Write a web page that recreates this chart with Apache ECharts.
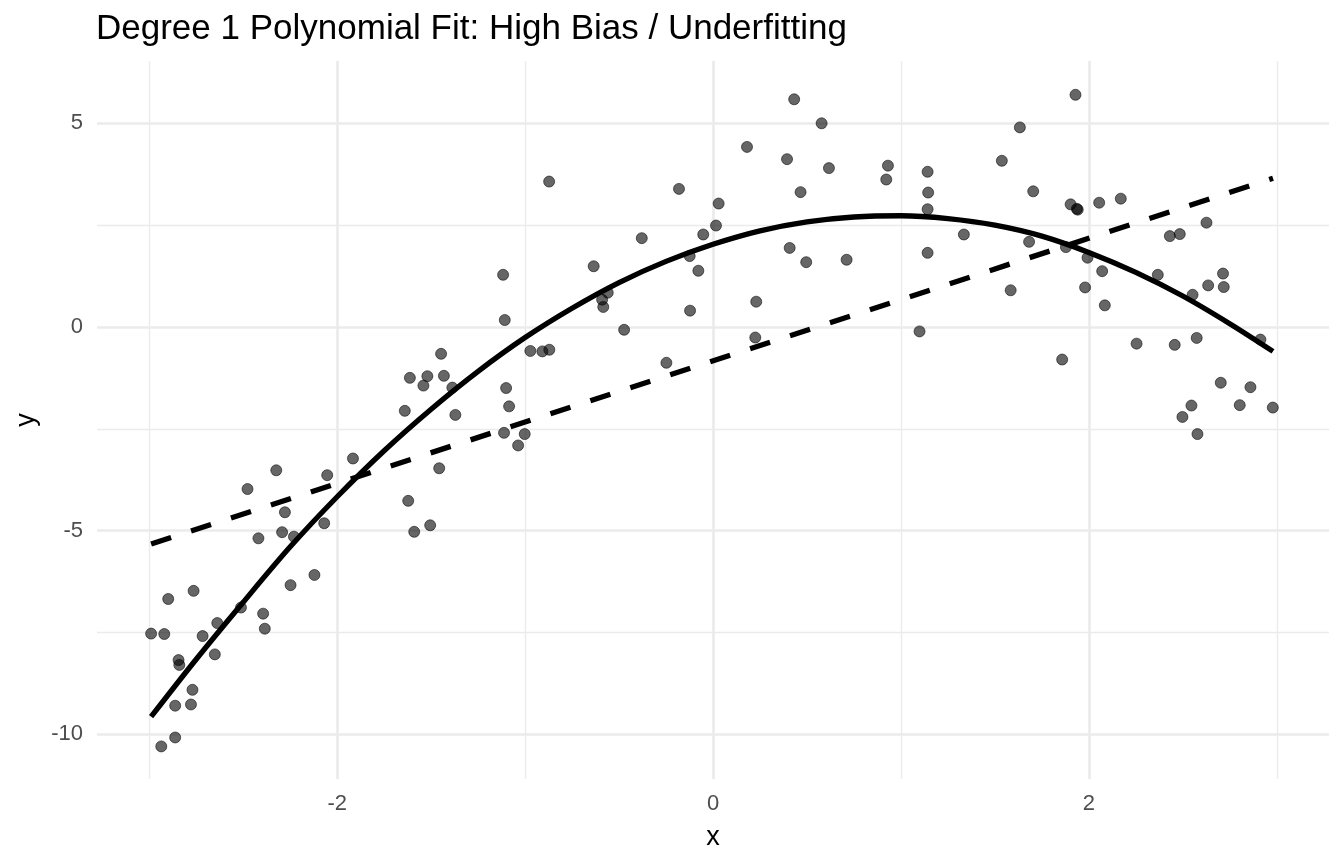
<!DOCTYPE html>
<html>
<head>
<meta charset="utf-8">
<script src="https://cdn.jsdelivr.net/npm/echarts@6/dist/echarts.min.js"></script>
<style>
html,body{margin:0;padding:0;background:#fff;}
#chart{width:1344px;height:864px;}
</style>
</head>
<body>
<div id="chart"></div>
<script>
// Observed data points (x, y)
const pointX = [
 -1.916,-2.324,-2.053,-2.477,-2.278,-2.069,-2.419,-2.293,-2.230,-2.121,
 -2.248,-2.899,-2.764,-2.512,-2.394,-2.385,-2.638,-2.990,-2.920,-2.716,
 -2.651,-2.844,-2.840,-2.770,-2.862,-2.778,-2.862,-2.936,
 -1.117,-1.108,-0.972,-0.908,-0.871,-1.447,-1.613,-1.520,-1.541,-1.432,
 -1.387,-1.640,-1.371,-1.101,-1.085,-1.112,-1.002,-1.037,-1.457,-1.622,
 -1.590,-1.505,
 0.181,-0.872,-0.181,0.030,0.016,-0.379,-0.052,-0.635,-0.124,-0.078,
 -0.560,-0.590,-0.584,-0.122,0.230,-0.473,0.225,-0.248,
 0.432,0.578,0.394,0.617,0.931,0.922,1.142,1.145,1.142,1.537,
 1.633,0.466,1.335,0.408,0.496,0.711,1.142,1.099,1.584,
 1.929,1.704,1.903,1.936,1.941,2.055,2.170,2.626,2.431,2.484,
 1.682,1.878,1.993,2.071,2.367,2.714,2.635,2.718,2.552,1.980,
 2.085,2.254,2.457,2.574,2.913,1.858,2.702,2.860,2.546,2.803,
 2.979,2.498,2.578
];
const pointY = [
 -3.23,-3.52,-3.64,-3.98,-4.55,-4.82,-5.19,-5.04,-5.15,-6.09,
 -6.34,-6.68,-6.48,-6.89,-7.04,-7.41,-7.27,-7.53,-7.54,-7.59,
 -8.04,-8.18,-8.30,-8.91,-9.30,-9.27,-10.08,-10.30,
 1.28,0.17,-0.59,-0.60,-0.56,-0.66,-1.25,-1.21,-1.44,-1.20,
 -1.49,-2.06,-2.16,-1.50,-1.95,-2.60,-2.63,-2.91,-3.47,-4.27,
 -5.03,-4.87,
 4.42,3.57,3.39,3.03,2.49,2.18,2.27,1.49,1.74,1.38,
 0.84,0.67,0.49,0.40,0.62,-0.07,-0.26,-0.88,
 5.59,5.00,4.12,3.90,3.96,3.62,3.81,3.30,2.89,4.08,
 4.90,3.31,2.27,1.94,1.59,1.65,1.82,-0.11,0.90,
 5.70,3.33,3.01,2.90,2.88,3.05,3.15,2.56,2.23,2.28,
 2.09,1.96,1.70,1.37,1.28,1.31,1.02,0.98,0.79,0.97,
 0.53,-0.41,-0.44,-0.27,-0.31,-0.80,-1.37,-1.48,-1.93,-1.92,
 -1.98,-2.21,-2.63
];

// Degree-1 fit (dashed)
const linFitX = [-2.99, 2.98];
const linFitY = [-5.33, 3.65];

// Quadratic trend curve (solid)
const quadFitX = [-2.99,-2.75,-2.5,-2.25,-2,-1.75,-1.5,-1.25,-1,-0.75,-0.5,-0.25,
                  0,0.25,0.5,0.75,1,1.25,1.5,1.75,2,2.25,2.5,2.75,2.98];
const quadFitY = [-9.57,-8.16,-6.76,-5.40,-4.17,-3.04,-2.02,-1.09,-0.26,0.46,1.09,1.61,
                  2.03,2.36,2.58,2.70,2.73,2.66,2.50,2.23,1.83,1.34,0.76,0.08,-0.60];

const xMajorTicks = [-2, 0, 2];
const xMinorTicks = [-3, -1, 1, 3];
const yMajorTicks = [-10, -5, 0, 5];
const yMinorTicks = [-7.5, -2.5, 2.5];

const titleText = 'Degree 1 Polynomial Fit: High Bias / Underfitting';

const FONT = 'Liberation Sans, Arial, Helvetica, sans-serif';
const zip = (a, b) => a.map((v, i) => [v, b[i]]);

const chart = echarts.init(document.getElementById('chart'), null, {renderer: 'canvas'});
const gridColor = '#EBEBEB';
const xMin = -3.278, xMax = 3.278, yMin = -11.1, yMax = 6.53;

chart.setOption({
  animation: false,
  backgroundColor: '#ffffff',
  textStyle: {fontFamily: FONT},
  title: {
    text: titleText,
    left: 91,
    top: 7,
    textStyle: {fontFamily: FONT, fontSize: 35, fontWeight: 'normal', color: '#000'}
  },
  grid: {left: 97, right: 15, top: 61, bottom: 85, containLabel: false},
  xAxis: [
    {
      type: 'value', min: xMin, max: xMax,
      name: 'x', nameLocation: 'middle', nameGap: 45,
      nameTextStyle: {fontFamily: FONT, fontSize: 27, color: '#000'},
      axisLine: {show: false},
      axisTick: {show: false, customValues: xMajorTicks},
      axisLabel: {customValues: xMajorTicks, fontFamily: FONT, fontSize: 22, color: '#4D4D4D', margin: 14},
      splitLine: {show: true, lineStyle: {color: gridColor, width: 2.7}}
    },
    {
      type: 'value', min: xMin, max: xMax, position: 'bottom',
      axisLine: {show: false},
      axisTick: {show: false, customValues: xMinorTicks},
      axisLabel: {show: false, customValues: xMinorTicks},
      splitLine: {show: true, lineStyle: {color: gridColor, width: 1.4}}
    }
  ],
  yAxis: [
    {
      type: 'value', min: yMin, max: yMax,
      name: 'y', nameLocation: 'middle', nameGap: 56, nameRotate: 90,
      nameTextStyle: {fontFamily: FONT, fontSize: 27, color: '#000'},
      axisLine: {show: false},
      axisTick: {show: false, customValues: yMajorTicks},
      axisLabel: {customValues: yMajorTicks, fontFamily: FONT, fontSize: 22, color: '#4D4D4D', margin: 14},
      splitLine: {show: true, lineStyle: {color: gridColor, width: 2.7}}
    },
    {
      type: 'value', min: yMin, max: yMax, position: 'left',
      axisLine: {show: false},
      axisTick: {show: false, customValues: yMinorTicks},
      axisLabel: {show: false, customValues: yMinorTicks},
      splitLine: {show: true, lineStyle: {color: gridColor, width: 1.4}}
    }
  ],
  series: [
    {
      type: 'scatter', xAxisIndex: 0, yAxisIndex: 0,
      data: zip(pointX, pointY),
      symbol: 'circle', symbolSize: 11,
      itemStyle: {color: 'rgba(0,0,0,0.6)', borderColor: 'rgba(0,0,0,0.55)', borderWidth: 1, opacity: 1},
      z: 2
    },
    {
      type: 'line', xAxisIndex: 0, yAxisIndex: 0,
      data: zip(linFitX, linFitY),
      showSymbol: false, symbol: 'none',
      lineStyle: {color: '#000', width: 5.3, type: [21, 21], cap: 'butt'},
      z: 3
    },
    {
      type: 'line', xAxisIndex: 0, yAxisIndex: 0,
      data: zip(quadFitX, quadFitY),
      showSymbol: false, symbol: 'none', smooth: 0.3,
      lineStyle: {color: '#000', width: 5.3},
      z: 3
    }
  ]
});
</script>
</body>
</html>
